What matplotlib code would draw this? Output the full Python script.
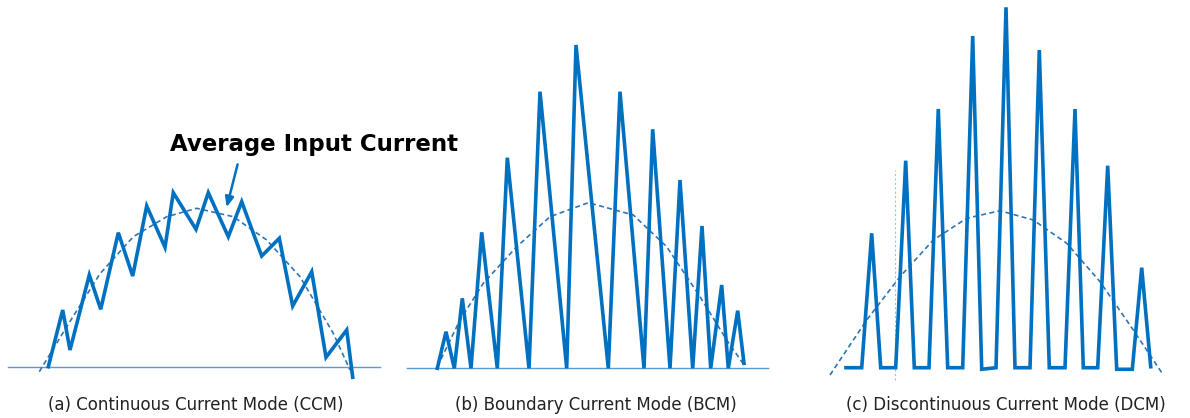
import matplotlib.pyplot as plt

# Inductor current waveforms (time in px-like units, current above baseline)
ccm_t = [48.3, 62.7, 70, 89.3, 100.7, 118.3, 132.7, 146.7, 165, 173.3, 196,
         208.3, 228.3, 241.7, 261.7, 279.3, 292.7, 311.7, 326, 346.7, 352.7]
ccm_i = [0, 56.7, 16.7, 91.7, 57.4, 134, 90.7, 160.7, 119.4, 174, 137.4,
         174, 130, 165, 110.7, 128.4, 60.7, 95, 9.4, 36.7, -10.6]
ccm_avg_t = [39.3, 66.7, 100, 133.3, 166.7, 196.7, 233.3, 266.7, 300, 333.3, 350]
ccm_avg_i = [-5, 40, 93, 130, 150, 158.4, 150, 126.7, 90, 33.4, -3.3]

bcm_t = [37.3, 46, 54.3, 62.3, 71, 81.7, 97.3, 107.3, 129, 140, 166.7, 176, 208.3,
         220, 244, 252.7, 270, 280, 292.7, 302, 310.7, 321.7, 328.3, 337.7, 344]
bcm_i = [0, 36.6, 0, 70, 0, 136, 0, 210.6, 0, 276.6, 0, 323.3, 0,
         276.6, 0, 239, 0, 188.3, 0, 142.3, 0, 83.3, 0, 57.6, 5]
bcm_avg_t = [37.3, 60, 83.3, 116.7, 150, 188.3, 233.3, 266.7, 300, 326.7, 344]
bcm_avg_i = [1.6, 48.3, 85, 121.6, 151.6, 165.6, 153.3, 121.6, 71.6, 28.3, 3.3]

dcm_t = [46, 61.7, 71.7, 80.7, 95.7, 105.7, 114.3, 129, 138.3, 147.7, 162.7, 172.7,
         181.7, 196, 206, 215, 230, 239.3, 249.3, 265, 275, 283.3, 297.7, 307.7,
         316.7, 332.3, 341.7, 350.7]
dcm_i = [0, 0, 134.4, 0, 0, 207, 0, 0, 258.7, 0, 0, 331.7,
         -1.6, 0, 360.4, 0, 0, 317.7, 0, 0, 258.7, 0, 0, 202,
         -1.6, -1.6, 100, 1]
dcm_avg_t = [30, 66.7, 100, 133.3, 166.7, 200, 233.3, 266.7, 300, 333.3, 363.3]
dcm_avg_i = [-7.3, 47.7, 91, 127.7, 149.4, 157, 147.7, 124.4, 86, 37.7, -7.3]

captions = ['(a) Continuous Current Mode (CCM)',
            '(b) Boundary Current Mode (BCM)',
            '(c) Discontinuous Current Mode (DCM)']

blue = '#0070C0'
light = '#5B9BD5'

W, H = 1190, 418
fig = plt.figure(figsize=(W / 100, H / 100), dpi=100)

def panel(left, width, base):
    ax = fig.add_axes([left / W, 0, width / W, 1])
    ax.set_xlim(0, width)
    ax.set_ylim(-(H - base), base)
    ax.axis('off')
    return ax

ax_a = panel(0, 400, 366.7)
ax_b = panel(400, 400, 368.3)
ax_c = panel(800, 390, 367.7)

# (a) CCM
ax_a.plot([8, 380], [0, 0], color=light, lw=1.0)
ax_a.plot(ccm_avg_t, ccm_avg_i, color='#2E75B6', lw=1.2, ls=(0, (3, 2)))
ax_a.plot(ccm_t, ccm_i, color=blue, lw=2.6, solid_joinstyle='miter', clip_on=False)
ax_a.annotate('', xy=(226, 156.7), xytext=(238.3, 205),
              arrowprops=dict(arrowstyle='-|>,head_length=0.6,head_width=0.25',
                              color=blue, lw=1.8))
ax_a.text(170, 221.7, 'Average Input Current', fontsize=16.5, fontweight='bold',
          color='black', ha='left', va='center')

# (b) BCM
ax_b.plot([6.7, 368.3], [0, 0], color=light, lw=1.0)
ax_b.plot(bcm_avg_t, bcm_avg_i, color='#2E75B6', lw=1.2, ls=(0, (3, 2)))
ax_b.plot(bcm_t, bcm_i, color=blue, lw=2.6, solid_joinstyle='miter', clip_on=False)

# (c) DCM
ax_c.plot([95, 95], [-12, 198], color='#9DC3E6', lw=0.8, ls=(0, (2, 2)))
ax_c.plot(dcm_avg_t, dcm_avg_i, color='#2E75B6', lw=1.2, ls=(0, (3, 2)))
ax_c.plot(dcm_t, dcm_i, color=blue, lw=2.6, solid_joinstyle='miter', clip_on=False)

for cx, txt in zip([196, 596, 1006], captions):
    fig.text(cx / W, 1 - 405 / H, txt, fontsize=12, color='#222222',
             ha='center', va='center')

fig.savefig('out.png', dpi=100)
